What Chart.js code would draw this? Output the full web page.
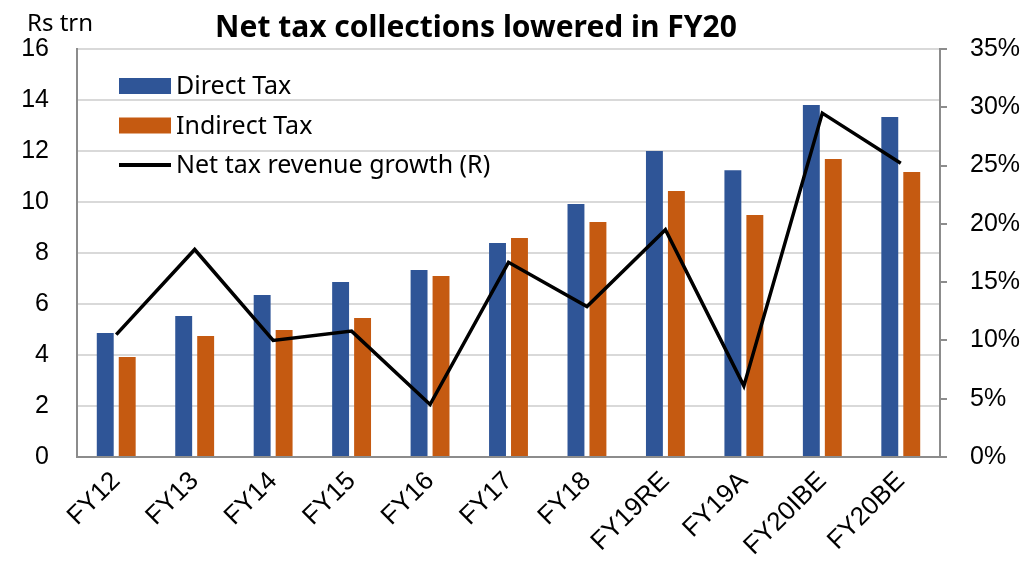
<!DOCTYPE html>
<html>
<head>
<meta charset="utf-8">
<script src="https://cdn.jsdelivr.net/npm/chart.js@4/dist/chart.umd.min.js"></script>
<style>
body{margin:0;background:#fff}
</style>
</head>
<body>
<canvas id="myChart" width="1026" height="566"></canvas>
<script>
// values
const years = ["FY12","FY13","FY14","FY15","FY16","FY17","FY18","FY19RE","FY19A","FY20IBE","FY20BE"]
const directTax = [4.86,5.53,6.35,6.86,7.33,8.39,9.92,12.0,11.25,13.8,13.33]
const indirectTax = [3.92,4.75,4.98,5.45,7.10,8.59,9.22,10.43,9.49,11.69,11.18]
const netGrowth = [10.5,17.8,10.0,10.8,4.5,16.7,12.9,19.5,6.1,29.5,25.2]

const blue = "#2F5597"
const orange = "#C55A11"
const tickFont = {family:"Liberation Sans", size:25}

// legend inside the plot + title + unit label
const extras = {
  id:'extras',
  afterDraw(chart) {
    const ctx = chart.ctx
    ctx.save()
    ctx.fillStyle = '#000'
    ctx.textBaseline = 'alphabetic'
    ctx.font = 'bold 30px "Noto Sans"'
    ctx.textAlign = 'center'
    ctx.fillText('Net tax collections lowered in FY20', 476, 37)
    ctx.font = '24px "Noto Sans"'
    ctx.textAlign = 'left'
    ctx.fillText('Rs trn', 27, 31)

    const rows = [
      {t:'Direct Tax', c:blue, type:'box'},
      {t:'Indirect Tax', c:orange, type:'box'},
      {t:'Net tax revenue growth (R)', c:'#000', type:'line'}
    ]
    rows.forEach((r,i) => {
      const y = 86 + i*39.5
      if (r.type=='box') {
        ctx.fillStyle = r.c
        ctx.fillRect(119, y-8, 52, 16)
      } else {
        ctx.strokeStyle = r.c
        ctx.lineWidth = 4
        ctx.beginPath(); ctx.moveTo(119,y); ctx.lineTo(171,y); ctx.stroke()
      }
      ctx.fillStyle = '#000'
      ctx.font = '25px "Noto Sans"'
      ctx.textBaseline = 'middle'
      ctx.fillText(r.t, 176, y+1)
    })
    ctx.restore()
  }
}

new Chart("myChart", {
  type: "bar",
  data: {
    labels: years,
    datasets: [{
      type: "line",
      label: "Net tax revenue growth (R)",
      data: netGrowth,
      yAxisID: "y1",
      borderColor: "#000",
      borderWidth: 3.5,
      pointRadius: 0,
      tension: 0,
      order: 0
    },{
      label: "Direct Tax",
      data: directTax,
      backgroundColor: blue,
      yAxisID: "y",
      categoryPercentage: 0.56,
      barPercentage: 0.77,
      order: 1
    },{
      label: "Indirect Tax",
      data: indirectTax,
      backgroundColor: orange,
      yAxisID: "y",
      categoryPercentage: 0.56,
      barPercentage: 0.77,
      order: 1
    }]
  },
  options: {
    responsive: false,
    animation: false,
    layout: {padding: {top: 49, left: 0, right: 0, bottom: 0}},
    plugins: {
      legend: {display: false},
      title: {display: false},
      tooltip: {enabled: false}
    },
    scales: {
      x: {
        grid: {display: false},
        border: {color: "#8c8c8c", width: 2},
        ticks: {font: {family:"Liberation Sans", size:26}, color: "#000", maxRotation: 45, minRotation: 45, padding: 1},
        afterFit(s) { s.height = 109 }
      },
      y: {
        position: "left",
        min: 0, max: 16,
        ticks: {stepSize: 2, font: tickFont, color: "#000", padding: 28},
        grid: {color: "#d9d9d9", lineWidth: 2, drawTicks: false},
        border: {color: "#8c8c8c", width: 2},
        afterFit(s) { s.width = 77 }
      },
      y1: {
        position: "right",
        min: 0, max: 35,
        ticks: {stepSize: 5, font: tickFont, color: "#000", padding: 23, callback: v => v + "%"},
        grid: {drawOnChartArea: false, color: "#8c8c8c", lineWidth: 2, tickLength: 7},
        border: {color: "#8c8c8c", width: 2},
        afterFit(s) { s.width = 86 }
      }
    }
  },
  plugins: [extras]
});
</script>
</body>
</html>
